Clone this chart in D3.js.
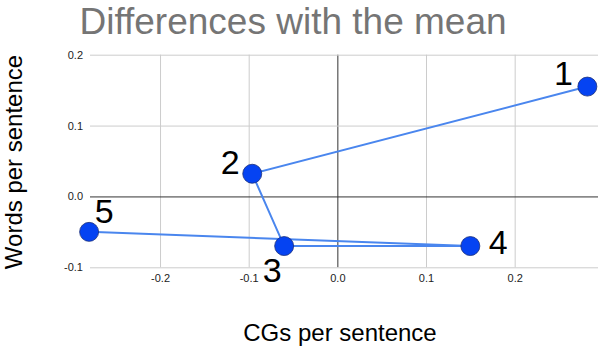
<!DOCTYPE html>
<html>
<head>
<meta charset="utf-8">
<script src="https://cdn.jsdelivr.net/npm/d3@7"></script>
<style>
body { margin: 0; background: #fff; }
text { font-family: "Liberation Sans", Arial, sans-serif; }
</style>
</head>
<body>
<script>
// points in visiting order
var pointLabels = ["1", "2", "3", "4", "5"];
var xValues = [0.282, -0.096, -0.060, 0.150, -0.280];
var yValues = [0.155, 0.032, -0.070, -0.070, -0.050];

var xTicks = [-0.2, -0.1, 0.0, 0.1, 0.2];
var xTickLabels = ["-0.2", "-0.1", "0.0", "0.1", "0.2"];
var yTicks = [-0.1, 0.0, 0.1, 0.2];
var yTickLabels = ["-0.1", "0.0", "0.1", "0.2"];

var width = 598, height = 350;
var plot = {left: 90, right: 598, top: 54.7, bottom: 267.3};

var xScale = d3.scaleLinear().domain([-0.279, 0.294]).range([plot.left, plot.right]);
var yScale = d3.scaleLinear().domain([-0.1, 0.2]).range([plot.bottom, plot.top]);

// where each number sits relative to its dot
var labelOffset = [[-24, -2], [-22, 0], [-12, 36], [28, 8], [15, -9]];

var svg = d3.select("body").append("svg")
.attr("width", width)
.attr("height", height);

svg.append("text")
.attr("x", 293)
.attr("y", 34)
.attr("text-anchor", "middle")
.attr("font-size", 37)
.attr("fill", "#757575")
.text("Differences with the mean");

// grid via axes
var xAxis = d3.axisBottom(xScale)
.tickValues(xTicks)
.tickSize(-(plot.bottom - plot.top))
.tickPadding(7)
.tickFormat(function(d, i) { return xTickLabels[i]; });

var xAxisGroup = svg.append("g")
.attr("transform", "translate(0," + plot.bottom + ")")
.call(xAxis);

var yAxis = d3.axisLeft(yScale)
.tickValues(yTicks)
.tickSize(-(plot.right - plot.left))
.tickPadding(7)
.tickFormat(function(d, i) { return yTickLabels[i]; });

var yAxisGroup = svg.append("g")
.attr("transform", "translate(" + plot.left + ",0)")
.call(yAxis);

[xAxisGroup, yAxisGroup].forEach(function(g) {
  g.select(".domain").remove();
  g.selectAll(".tick line").attr("stroke", function(d) { return d === 0 ? "#333" : "#ccc"; });
  g.selectAll(".tick text")
  .attr("font-family", "Liberation Sans, Arial, sans-serif")
  .attr("font-size", 11)
  .attr("fill", "#222");
});
// zero lines on top of the grey ones
xAxisGroup.selectAll(".tick").filter(function(d) { return d === 0; }).raise();
yAxisGroup.selectAll(".tick").filter(function(d) { return d === 0; }).raise();

var linePath = d3.line()
.x(function(d, i) { return xScale(xValues[i]); })
.y(function(d, i) { return yScale(yValues[i]); });

svg.append("path")
.attr("d", linePath(pointLabels))
.attr("fill", "none")
.attr("stroke", "#4a86ee")
.attr("stroke-width", 2);

svg.selectAll("circle.pt")
.data(pointLabels)
.enter().append("circle")
.attr("class", "pt")
.attr("cx", function(d, i) { return xScale(xValues[i]); })
.attr("cy", function(d, i) { return yScale(yValues[i]); })
.attr("r", 9.5)
.attr("fill", "#0543f2")
.attr("stroke", "#1b2f7a")
.attr("stroke-width", 0.8);

svg.selectAll("text.pt-label")
.data(pointLabels)
.enter().append("text")
.attr("class", "pt-label")
.attr("x", function(d, i) { return xScale(xValues[i]) + labelOffset[i][0]; })
.attr("y", function(d, i) { return yScale(yValues[i]) + labelOffset[i][1]; })
.attr("text-anchor", "middle")
.attr("font-size", 34)
.attr("fill", "#000")
.text(function(d) { return d; });

svg.append("text")
.attr("transform", "translate(22," + 162 + ") rotate(-90)")
.attr("text-anchor", "middle")
.attr("font-size", 24)
.attr("fill", "#000")
.text("Words per sentence");

svg.append("text")
.attr("x", 340)
.attr("y", 341)
.attr("text-anchor", "middle")
.attr("font-size", 24)
.attr("fill", "#000")
.text("CGs per sentence");
</script>
</body>
</html>
